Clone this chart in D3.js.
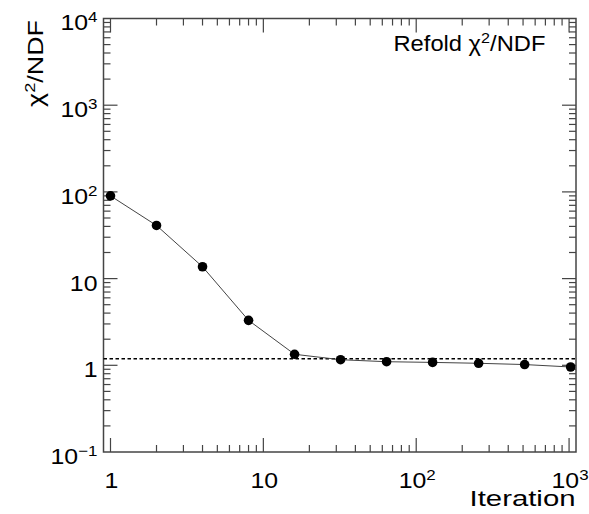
<!DOCTYPE html>
<html>
<head>
<meta charset="utf-8">
<script src="https://cdn.jsdelivr.net/npm/d3@7"></script>
<style>
	body { margin: 0; background: #fff; }
	svg { display: block; font-family: "Liberation Sans", Arial, Helvetica, sans-serif; }
</style>
</head>
<body>
<div id="chart"></div>
<script>
var WIDTH = 589;
var HEIGHT = 514;

// data
var iterations = [1, 2, 4, 8, 16, 32, 64, 128, 256, 512, 1024];
var chi2ndf = [90, 41, 13.7, 3.3, 1.34, 1.16, 1.10, 1.08, 1.055, 1.02, 0.956];
var refLevel = [1.19];
var xTickValues = [1, 10, 100, 1000];
var xTickLabels = [["1", ""], ["10", ""], ["10", "2"], ["10", "3"]];
var yTickValues = [0.1, 1, 10, 100, 1000, 10000];
var yTickLabels = [["10", "\u22121"], ["1", ""], ["10", ""], ["10", "2"], ["10", "3"], ["10", "4"]];

var frame = {left: 103.5, right: 576, top: 18.5, bottom: 452};

var svg = d3.select('#chart').append('svg')
	.attr('width', WIDTH).attr('height', HEIGHT);

var x = d3.scaleLog().domain([0.9, 1110]).range([frame.left, frame.right]);
var y = d3.scaleLog().domain([0.1, 10000]).range([frame.bottom, frame.top]);

var axisColour = '#444';

// minor + major ticks for a log scale, inside the frame
function logTicks(scale) {
	let d = scale.domain();
	let out = [];
	for(let e = Math.floor(Math.log10(d[0])); e <= Math.ceil(Math.log10(d[1])); e++) {
		for(let m = 1; m < 10; m++) {
			let v = m * Math.pow(10, e);
			if(v > d[0] * 1.001 && v < d[1] * 0.999)
				out.push({v: v, major: m == 1});
		}
	}
	return out;
}

var ticks = svg.append('g').attr('stroke', axisColour).attr('stroke-width', 1.2);
logTicks(x).forEach(function(t) {
	let len = t.major ? 14 : 7;
	ticks.append('line').attr('x1', x(t.v)).attr('x2', x(t.v))
		.attr('y1', frame.bottom).attr('y2', frame.bottom - len);
	ticks.append('line').attr('x1', x(t.v)).attr('x2', x(t.v))
		.attr('y1', frame.top).attr('y2', frame.top + len);
});
logTicks(y).forEach(function(t) {
	let len = t.major ? 14 : 7;
	ticks.append('line').attr('y1', y(t.v)).attr('y2', y(t.v))
		.attr('x1', frame.left).attr('x2', frame.left + len);
	ticks.append('line').attr('y1', y(t.v)).attr('y2', y(t.v))
		.attr('x1', frame.right).attr('x2', frame.right - len);
});

// frame
svg.append('rect')
	.attr('x', frame.left).attr('y', frame.top)
	.attr('width', frame.right - frame.left).attr('height', frame.bottom - frame.top)
	.attr('fill', 'none').attr('stroke', axisColour).attr('stroke-width', 1.5);

// stretch a text horizontally about its anchor to the measured width
function fitWidth(sel, target, ax) {
	let w = sel.node().getBBox().width;
	let s = target / w;
	sel.attr('transform', 'translate(' + ax + ',0) scale(' + s + ',1) translate(' + (-ax) + ',0)');
}

// power-of-ten label: base + superscript
function powLabel(g, xpos, ypos, parts, anchor) {
	let t = g.append('text').attr('x', xpos).attr('y', ypos)
		.attr('text-anchor', anchor).attr('font-size', 22).attr('fill', '#000');
	t.append('tspan').text(parts[0]);
	if(parts[1] != "")
		t.append('tspan').attr('font-size', 15).attr('dy', -8).text(parts[1]);
	return t;
}

var labels = svg.append('g');
yTickValues.forEach(function(v, i) {
	let t = powLabel(labels, 97.5, y(v) + 12, yTickLabels[i], 'end');
	fitWidth(t, t.node().getBBox().width * 1.13, 97.5);
});
xTickValues.forEach(function(v, i) {
	let t = powLabel(labels, x(v) + 1, 488, xTickLabels[i], 'middle');
	fitWidth(t, t.node().getBBox().width * 1.13, x(v) + 1);
});

// axis titles
var xt = svg.append('text').attr('x', 575.5).attr('y', 506.5)
	.attr('text-anchor', 'end').attr('font-size', 22).text('Iteration');
fitWidth(xt, 106, 575.5);

var yt = svg.append('g').attr('transform', 'translate(42.5,20) rotate(-90)');
var ytText = yt.append('text').attr('x', 0).attr('y', 0)
	.attr('text-anchor', 'end').attr('font-size', 22);
ytText.append('tspan').text('\u03c7');
ytText.append('tspan').attr('font-size', 15).attr('dy', -8).text('2');
ytText.append('tspan').attr('dy', 8).text('/NDF');
fitWidth(ytText, 87, 0);

// legend text
var leg = svg.append('text').attr('x', 393.5).attr('y', 51)
	.attr('font-size', 22);
leg.append('tspan').text('Refold \u03c7');
leg.append('tspan').attr('font-size', 15).attr('dy', -8).text('2');
leg.append('tspan').attr('dy', 8).text('/NDF');
fitWidth(leg, 152, 393.5);

// reference level
svg.append('g').selectAll('line').data(refLevel).enter().append('line')
	.attr('x1', frame.left).attr('x2', frame.right)
	.attr('y1', function(d){return y(d);}).attr('y2', function(d){return y(d);})
	.attr('stroke', '#000').attr('stroke-width', 1.5).attr('stroke-dasharray', '3.5,2.5');

// series
var points = iterations.map(function(it, i){ return [it, chi2ndf[i]]; });
svg.append('path').datum(points)
	.attr('d', d3.line().x(function(d){return x(d[0]);}).y(function(d){return y(d[1]);}))
	.attr('fill', 'none').attr('stroke', '#444').attr('stroke-width', 1);
svg.append('g').selectAll('circle').data(points).enter().append('circle')
	.attr('cx', function(d){return x(d[0]);}).attr('cy', function(d){return y(d[1]);})
	.attr('r', 4.8).attr('fill', '#000');
</script>
</body>
</html>
